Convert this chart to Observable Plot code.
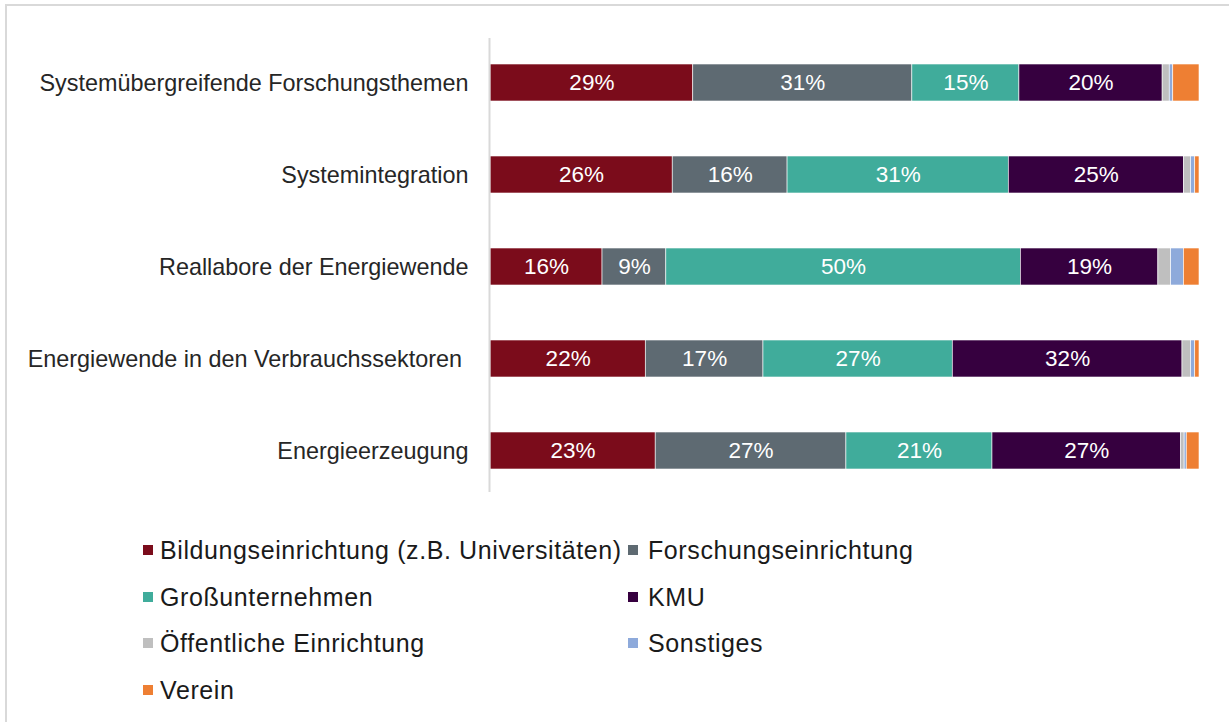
<!DOCTYPE html>
<html>
<head>
<meta charset="utf-8">
<script src="https://cdn.jsdelivr.net/npm/d3@7"></script>
<script src="https://cdn.jsdelivr.net/npm/@observablehq/plot@0.6"></script>
<style>
  html, body { margin: 0; padding: 0; background: #fff; }
  body { width: 1229px; height: 722px; position: relative; overflow: hidden; font-family: "Liberation Sans", Arial, sans-serif; }
  #frame { position: absolute; left: 5px; top: 4px; width: 1240px; height: 740px; border-top: 2px solid #d9d9d9; border-left: 2px solid #d9d9d9; }
  #chart { position: absolute; left: 0; top: 0; }
  .leg { position: absolute; display: flex; align-items: center; font-size: 25px; letter-spacing: 0.6px; color: #1a1a1a; white-space: nowrap; }
  .leg .sw { width: 10px; height: 10px; flex: none; }
</style>
</head>
<body>
<div id="frame"></div>
<div id="chart"></div>
<div id="legend"></div>
<script>
const categories = [
  "Systemübergreifende Forschungsthemen",
  "Systemintegration",
  "Reallabore der Energiewende",
  "Energiewende in den Verbrauchssektoren",
  "Energieerzeugung"
];
const seriesNames = [
  "Bildungseinrichtung (z.B. Universitäten)",
  "Forschungseinrichtung",
  "Großunternehmen",
  "KMU",
  "Öffentliche Einrichtung",
  "Sonstiges",
  "Verein"
];
const seriesColors = ["#7b0c1b", "#5e6a72", "#40ac9b", "#36003f", "#bfbfbf", "#8eaadb", "#ee7f33"];

const bildung     = [28.6, 25.7, 15.8, 21.9, 23.3];
const forschung   = [30.9, 16.2,  9.0, 16.6, 26.9];
const gross       = [15.1, 31.2, 50.0, 26.7, 20.6];
const kmu         = [20.2, 24.7, 19.4, 32.4, 26.6];
const oeffentlich = [ 1.0,  1.0,  1.8,  1.2,  0.5];
const sonstiges   = [ 0.5,  0.6,  1.8,  0.6,  0.3];
const verein      = [ 3.7,  0.6,  2.2,  0.6,  1.8];

const seriesValues = [bildung, forschung, gross, kmu, oeffentlich, sonstiges, verein];

const data = [];
categories.forEach((cat, i) => {
  seriesNames.forEach((s, j) => {
    data.push({cat, series: s, value: seriesValues[j][i]});
  });
});

const chart = Plot.plot({
  width: 1229,
  height: 510,
  marginLeft: 490,
  marginRight: 30,
  marginTop: 36,
  marginBottom: 14,
  style: {fontFamily: "'Liberation Sans', Arial, sans-serif", fontSize: "23px", color: "#262626", background: "transparent"},
  x: {domain: [0, 100], axis: null},
  y: {domain: categories, paddingInner: 0.6, paddingOuter: 0.3, label: null},
  color: {domain: seriesNames, range: seriesColors},
  marks: [
    Plot.barX(data, Plot.stackX({x: "value", y: "cat", z: "series", fill: "series", order: null, stroke: "white", strokeWidth: 0.6})),
    Plot.text(data, Plot.stackX({
      x: "value", y: "cat", z: "series", order: null,
      text: d => d.value >= 5 ? Math.round(d.value) + "%" : "",
      fill: "white", fontSize: 22.5
    })),
    Plot.ruleX([0], {stroke: "#d9d9d9", strokeWidth: 2, dx: -1, insetTop: 2, insetBottom: 4}),
    Plot.axisY({tickSize: 0, tickPadding: 22, fontSize: 23.4, fill: "#262626",
      tickFormat: d => d === categories[3] ? d + "\u00A0" : d})
  ]
});
document.getElementById("chart").appendChild(chart);

// Legend (HTML, below the SVG)
const legendPos = [
  [143, 550], [628, 550],
  [143, 597], [628, 597],
  [143, 643], [628, 643],
  [143, 690]
];
const legend = document.getElementById("legend");
seriesNames.forEach((s, i) => {
  const el = document.createElement("div");
  el.className = "leg";
  el.style.left = legendPos[i][0] + "px";
  el.style.top = (legendPos[i][1] - 14) + "px";
  el.style.height = "28px";
  const sw = document.createElement("span");
  sw.className = "sw";
  sw.style.background = seriesColors[i];
  sw.style.marginRight = (i % 2 === 0 ? 7 : 10) + "px";
  const tx = document.createElement("span");
  tx.textContent = s;
  el.appendChild(sw);
  el.appendChild(tx);
  legend.appendChild(el);
});
</script>
</body>
</html>
